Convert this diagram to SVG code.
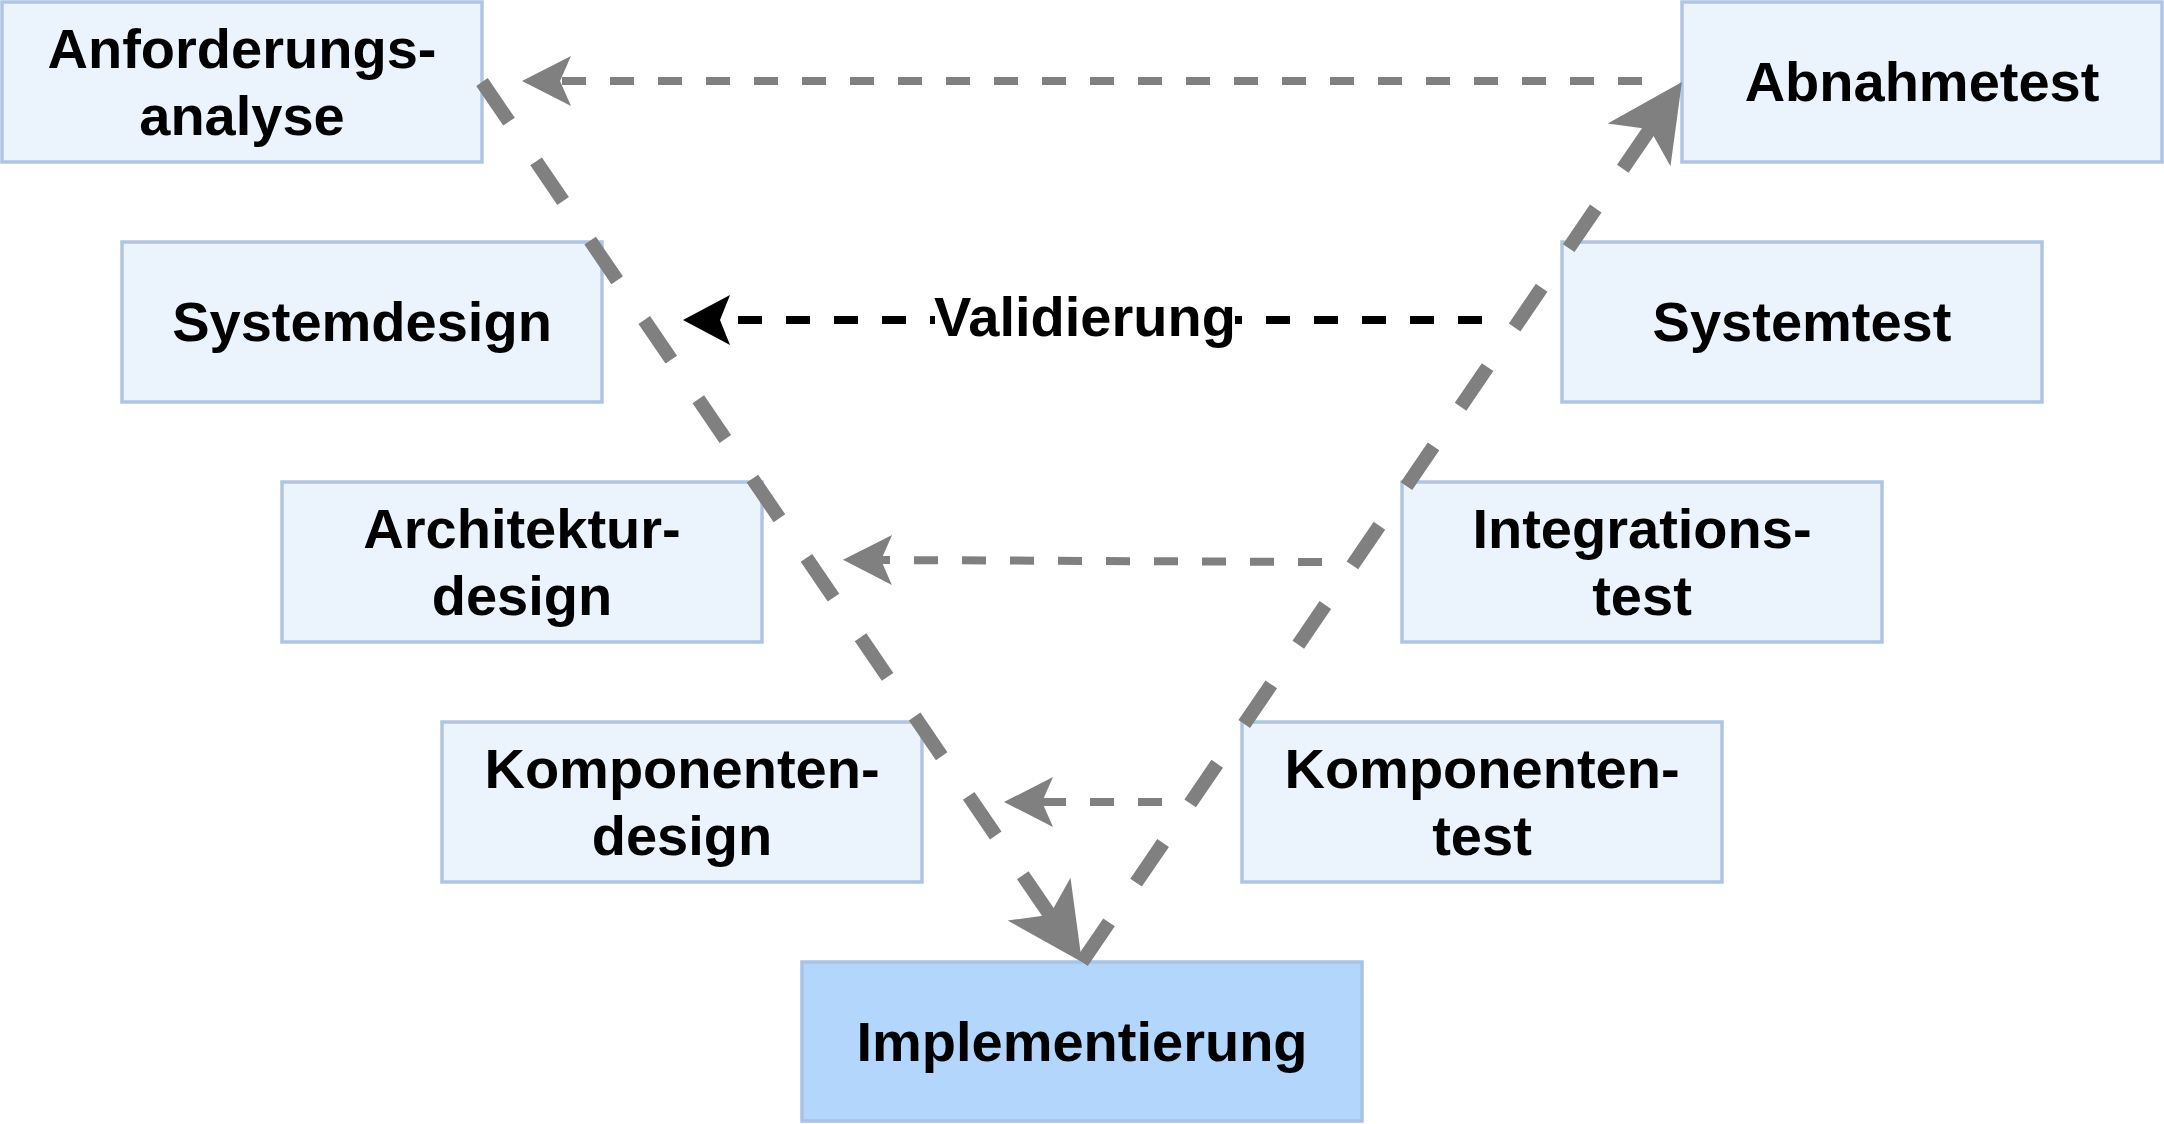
<svg xmlns="http://www.w3.org/2000/svg" width="2164" height="1124" viewBox="0 0 2164 1124">
<style>
.box{fill:#EBF3FD;stroke:#AFC5E3;stroke-width:3.5}
.impl{fill:#B2D6FC;stroke:#A7C3E6;stroke-width:3.5}
.lbl{font-family:"Liberation Sans",Arial,sans-serif;font-weight:bold;font-size:56px;fill:#000;text-anchor:middle}
.thick{fill:none;stroke:#808080;stroke-width:14;stroke-dasharray:48 48}
.thin{fill:none;stroke:#808080;stroke-width:8;stroke-dasharray:24 24}
.thinb{fill:none;stroke:#000;stroke-width:8;stroke-dasharray:24 24}
</style>
<defs>
<marker id="bigArrow" markerUnits="userSpaceOnUse" orient="auto" refX="0" refY="0" markerWidth="200" markerHeight="200" overflow="visible">
<path d="M57,0 L-19,-38 L0,0 L-19,38 Z" fill="#808080"/>
</marker>
<marker id="smallArrow" markerUnits="userSpaceOnUse" orient="auto" refX="0" refY="0" markerWidth="100" markerHeight="100" overflow="visible">
<path d="M38,0 L-11,-25 L0,0 L-11,25 Z" fill="#808080"/>
</marker>
<marker id="smallArrowBlack" markerUnits="userSpaceOnUse" orient="auto" refX="0" refY="0" markerWidth="100" markerHeight="100" overflow="visible">
<path d="M37,0 L-10,-25 L0,0 L-10,25 Z" fill="#000"/>
</marker>
</defs>
<rect width="2164" height="1124" fill="#fff"/>
<g id="anforderungsanalyse">
<rect class="box" x="2" y="2" width="480" height="160"/>
<text class="lbl" x="242" y="68">Anforderungs-</text>
<text class="lbl" x="242" y="135">analyse</text>
</g>
<g id="systemdesign">
<rect class="box" x="122" y="242" width="480" height="160"/>
<text class="lbl" x="362" y="341">Systemdesign</text>
</g>
<g id="architekturdesign">
<rect class="box" x="282" y="482" width="480" height="160"/>
<text class="lbl" x="522" y="548">Architektur-</text>
<text class="lbl" x="522" y="615">design</text>
</g>
<g id="komponentendesign">
<rect class="box" x="442" y="722" width="480" height="160"/>
<text class="lbl" x="682" y="788">Komponenten-</text>
<text class="lbl" x="682" y="855">design</text>
</g>
<g id="implementierung">
<rect class="impl" x="802" y="962" width="560" height="159"/>
<text class="lbl" x="1082" y="1061">Implementierung</text>
</g>
<g id="abnahmetest">
<rect class="box" x="1682" y="2" width="480" height="160"/>
<text class="lbl" x="1922" y="101">Abnahmetest</text>
</g>
<g id="systemtest">
<rect class="box" x="1562" y="242" width="480" height="160"/>
<text class="lbl" x="1802" y="341">Systemtest</text>
</g>
<g id="integrationstest">
<rect class="box" x="1402" y="482" width="480" height="160"/>
<text class="lbl" x="1642" y="548">Integrations-</text>
<text class="lbl" x="1642" y="615">test</text>
</g>
<g id="komponententest">
<rect class="box" x="1242" y="722" width="480" height="160"/>
<text class="lbl" x="1482" y="788">Komponenten-</text>
<text class="lbl" x="1482" y="855">test</text>
</g>
<g id="connectors">
<path class="thick" d="M482,82 L1049.8,914.8" marker-end="url(#bigArrow)"/>
<path class="thick" d="M1082,962 L1649.8,129.2" marker-end="url(#bigArrow)"/>
<path class="thin" d="M1642,81 L560,81" marker-end="url(#smallArrow)"/>
<path class="thinb" d="M1482,320 L720,320" marker-end="url(#smallArrowBlack)"/>
<rect x="935" y="286" width="300" height="66" fill="#fff"/>
<text class="lbl" x="1085" y="336">Validierung</text>
<path class="thin" d="M1322,562 L881,560" marker-end="url(#smallArrow)"/>
<path class="thin" d="M1162,802 L1042,802" marker-end="url(#smallArrow)"/>
</g>
</svg>
